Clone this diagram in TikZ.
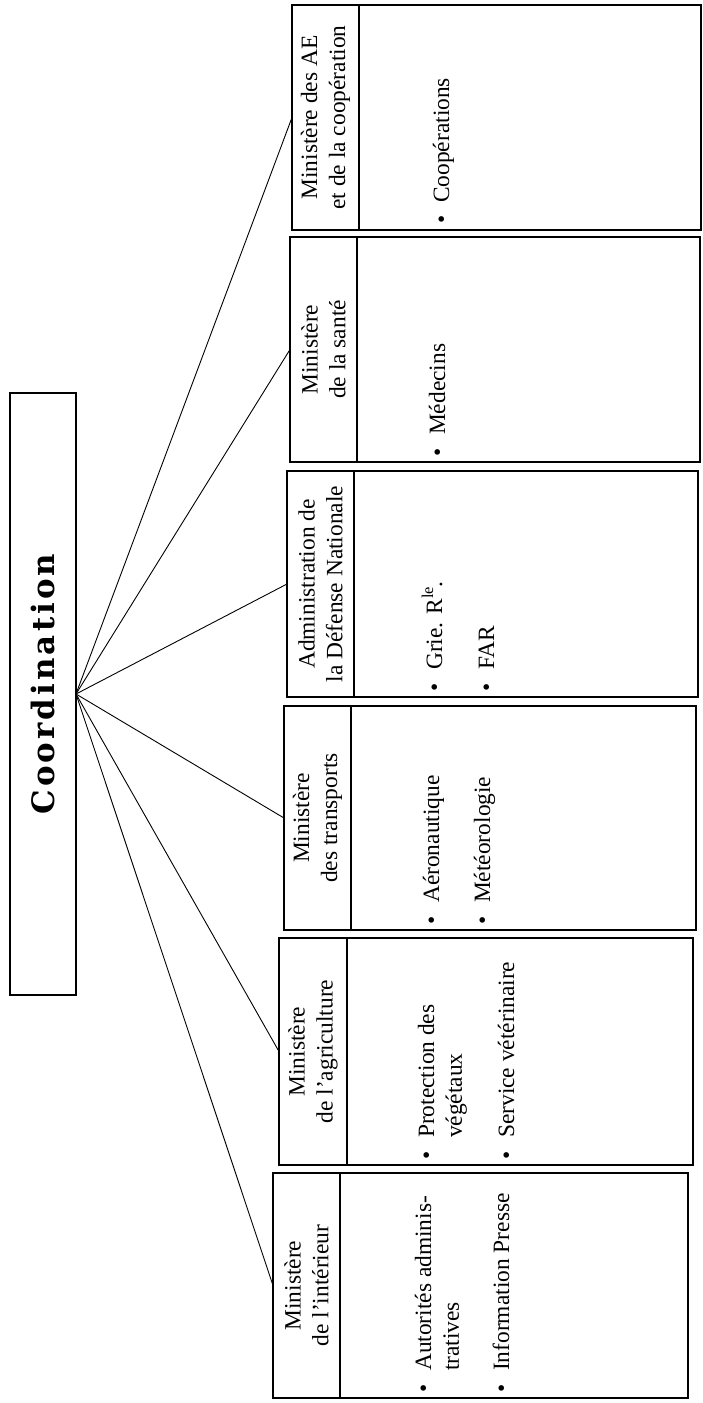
\documentclass[tikz,border=0pt]{standalone}
\usepackage{fontspec}
\setmainfont{Liberation Serif}
\newfontfamily\coordfont[LetterSpace=10]{DejaVu Serif}
\newcommand{\itm}[1]{\begin{tabular}[t]{@{}l@{\hspace{13bp}}l@{}}\textbullet & #1\end{tabular}}
\begin{document}
\begin{tikzpicture}[x=1bp,y=-1bp,
  every node/.style={inner sep=0pt, outer sep=0pt},
  box/.style={draw, line width=1.1bp, rectangle},
  hdr/.style={box, rotate=90, align=center, font=\fontsize{23.5}{28}\selectfont},
  item/.style={rotate=90, anchor=base west, font=\fontsize{23.5}{28}\selectfont},
  link/.style={line width=0.9bp}]
\useasboundingbox (0,0) rectangle (702,1403);

% central box
\node[box, rotate=90, minimum width=602bp, minimum height=66bp,
      font=\coordfont\bfseries\fontsize{31}{36}\selectfont] (coord) at (43,694) {\hspace{20bp}Coordination};

% unit 1
\node[hdr, minimum width=225bp, minimum height=67bp] (h1) at (325.5,117.5) {Ministère des AE\\et de la coopération};
\node[box, minimum width=342bp, minimum height=225bp] (b1) at (530,117.5) {};
\node[item] (i1a) at (449,224) {\itm{Coopérations}};

% unit 2
\node[hdr, minimum width=225bp, minimum height=67bp] (h2) at (323.5,349.5) {Ministère\\de la santé};
\node[box, minimum width=343bp, minimum height=225bp] (b2) at (528.5,349.5) {};
\node[item] (i2a) at (445,456) {\itm{Médecins}};

% unit 3
\node[hdr, minimum width=226bp, minimum height=67bp] (h3) at (320.5,584) {Administration de\\la Défense Nationale};
\node[box, minimum width=344bp, minimum height=226bp] (b3) at (526,584) {};
\node[item] (i3a) at (442,691) {\itm{Grie. R\textsuperscript{le}\kern-1bp.}};
\node[item] (i3b) at (494,691) {\itm{FAR}};

% unit 4
\node[hdr, minimum width=224bp, minimum height=67bp] (h4) at (317.5,818) {Ministère\\des transports};
\node[box, minimum width=345bp, minimum height=224bp] (b4) at (523.5,818) {};
\node[item] (i4a) at (439,924) {\itm{Aéronautique}};
\node[item] (i4b) at (490,924) {\itm{Météorologie}};

% unit 5
\node[hdr, minimum width=227bp, minimum height=68bp] (h5) at (313,1051.5) {Ministère\\de l’agriculture};
\node[box, minimum width=346bp, minimum height=227bp] (b5) at (520,1051.5) {};
\node[item] (i5a) at (434,1159) {\itm{Protection des\\ & végétaux}};
\node[item] (i5b) at (514,1159) {\itm{Service vétérinaire}};

% unit 6
\node[hdr, minimum width=225bp, minimum height=67bp] (h6) at (306.5,1285.5) {Ministère\\de l’intérieur};
\node[box, minimum width=348bp, minimum height=225bp] (b6) at (514,1285.5) {};
\node[item] (i6a) at (431,1392) {\itm{Autorités adminis-\\ & tratives}};
\node[item] (i6b) at (509,1392) {\itm{Information Presse}};

% connectors
\foreach \k in {1,...,6}{
  \draw[link] (coord.south) -- (h\k.north);
}
\end{tikzpicture}
\end{document}
